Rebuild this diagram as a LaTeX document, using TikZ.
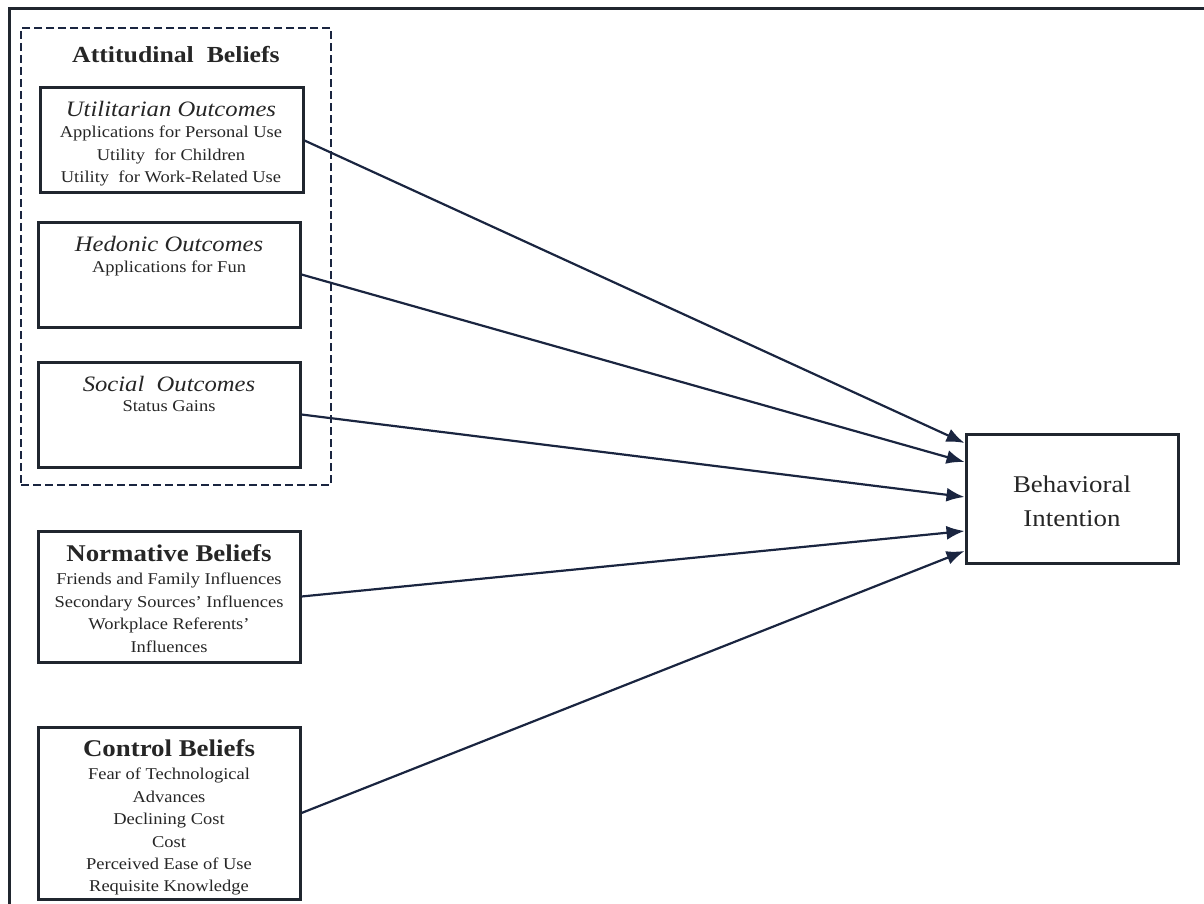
\documentclass[tikz,border=0pt]{standalone}
\usepackage{fontspec}
\setmainfont{Liberation Serif}[FakeStretch=1.12]
\usetikzlibrary{arrows.meta}
\definecolor{edge}{HTML}{20262F}
\definecolor{link}{HTML}{1A2540}
\definecolor{ink}{HTML}{262626}
\tikzset{
  box/.style={draw=edge, line width=3pt, rectangle, inner sep=0pt},
  group/.style={draw=link, line width=2.6pt, dash pattern=on 8pt off 4pt, rectangle, inner sep=0pt},
  headital/.style={text=ink, inner sep=0pt, font=\fontsize{22}{24}\selectfont\itshape},
  headbold/.style={text=ink, inner sep=0pt, font=\fontsize{24}{26}\selectfont\bfseries},
  body/.style={text=ink, inner sep=0pt, align=center, anchor=north, font=\fontsize{16.5}{22.4}\selectfont},
  link/.style={draw=link, line width=2.2pt, -{Latex[length=18pt,width=14pt]}}
}
\begin{document}
\begin{tikzpicture}[x=1pt,y=-1pt]
\useasboundingbox (0,0) rectangle (1204,904);
% page frame
\draw[edge, line width=3pt] (9,904) -- (9,9) -- (1204,9);

% attitudinal group
\node[group, minimum width=310pt, minimum height=457pt] (att) at (176,256.5) {};
\node[headbold, font=\fontsize{23}{25}\selectfont\bfseries] (attT) at (176,55) {Attitudinal~ Beliefs};

\node[box, minimum width=263pt, minimum height=105pt] (util) at (171.5,140.5) {};
\node[headital] (utilT) at (171,109) {Utilitarian Outcomes};
\node[body] (utilB) at (171,126) {Applications for Personal Use\\Utility~ for Children\\Utility~ for Work-Related Use};

\node[box, minimum width=262pt, minimum height=105pt] (hed) at (169,274.5) {};
\node[headital] (hedT) at (169,244) {Hedonic Outcomes};
\node[body] (hedB) at (169,261) {Applications for Fun};

\node[box, minimum width=262pt, minimum height=105pt] (soc) at (169,414.5) {};
\node[headital] (socT) at (169,384) {Social~ Outcomes};
\node[body] (socB) at (169,400) {Status Gains};

% normative beliefs
\node[box, minimum width=262pt, minimum height=131pt] (norm) at (169,596.5) {};
\node[headbold] (normT) at (169,553) {Normative Beliefs};
\node[body] (normB) at (169,573) {Friends and Family Influences\\Secondary Sources' Influences\\Workplace Referents'\\Influences};

% control beliefs
\node[box, minimum width=262pt, minimum height=172pt] (ctrl) at (169,813) {};
\node[headbold] (ctrlT) at (169,748) {Control Beliefs};
\node[body] (ctrlB) at (169,768) {Fear of Technological\\Advances\\Declining Cost\\Cost\\Perceived Ease of Use\\Requisite Knowledge};

% outcome
\node[box, minimum width=212pt, minimum height=129pt] (bi) at (1072,498.5) {};
\node[text=ink, inner sep=0pt, align=center, font=\fontsize{24}{34}\selectfont] (biT) at (1072,501) {Behavioral\\Intention};

% paths into the outcome
\draw[link] (util.east) -- ([yshift=55.5pt]bi.west);
\draw[link] (hed.east) -- ([yshift=36.5pt]bi.west);
\draw[link] (soc.east) -- ([yshift=1.5pt]bi.west);
\draw[link] (norm.east) -- ([yshift=-32.5pt]bi.west);
\draw[link] (ctrl.east) -- ([yshift=-52.5pt]bi.west);
\end{tikzpicture}
\end{document}
